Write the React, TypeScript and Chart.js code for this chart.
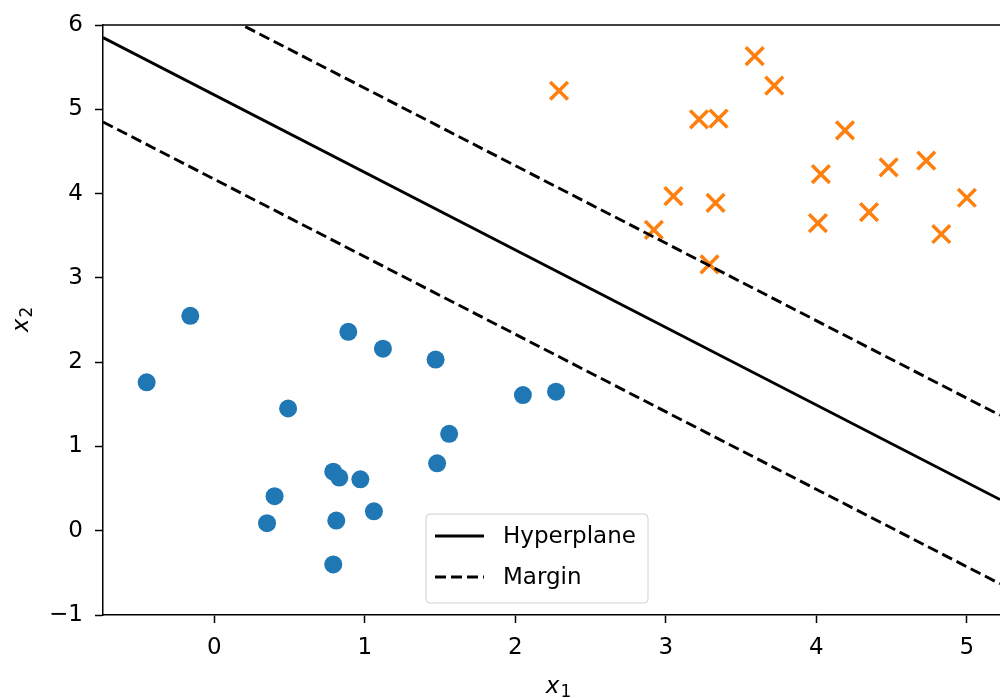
import React, { useEffect, useRef } from "react";
import { Chart, registerables } from "chart.js";

Chart.register(...registerables);

// Axis ranges and ticks
const xMin = -0.74;
const xMax = 5.22;
const yMin = -1;
const yMax = 6;
const xTicks = [0, 1, 2, 3, 4, 5];
const yTicks = [-1, 0, 1, 2, 3, 4, 5, 6];

// Axis titles (math-style: italic symbol + subscript)
const xTitle = ["x", "1"];
const yTitle = ["x", "2"];

// Separating hyperplane and margins (end points)
const lineX = [-0.74, 5.22];
const hyperplaneY = [5.85, 0.37];
const marginUpperY = [6.85, 1.37];
const marginLowerY = [4.85, -0.63];

// Class A (blue circles)
const classAX = [-0.45, -0.16, 0.89, 1.12, 1.47, 0.49, 2.05, 2.27, 1.56, 1.48, 0.79, 0.83, 0.97, 0.4, 0.35, 0.81, 1.06, 0.79];
const classAY = [1.76, 2.55, 2.36, 2.16, 2.03, 1.45, 1.61, 1.65, 1.15, 0.8, 0.7, 0.63, 0.61, 0.41, 0.09, 0.12, 0.23, -0.4];

// Class B (orange crosses)
const classBX = [3.59, 3.72, 3.22, 3.35, 4.19, 4.03, 4.48, 4.73, 3.05, 3.33, 5.0, 4.01, 4.35, 4.83, 2.92, 3.29, 2.29];
const classBY = [5.63, 5.28, 4.88, 4.89, 4.75, 4.23, 4.31, 4.39, 3.97, 3.89, 3.95, 3.65, 3.78, 3.52, 3.57, 3.16, 5.22];

const FONT = "'DejaVu Sans', sans-serif";
const FS = 23;

const fmt = (v: number) => (v < 0 ? "\u2212" + Math.abs(v) : String(v));

function drawMathLabel(ctx: CanvasRenderingContext2D, parts: string[], cx: number, baseline: number) {
  ctx.font = `italic ${FS}px ${FONT}`;
  const w0 = ctx.measureText(parts[0]).width;
  ctx.font = `17px ${FONT}`;
  const w1 = ctx.measureText(parts[1]).width;
  const start = cx - (w0 + w1) / 2;
  ctx.textAlign = "left";
  ctx.textBaseline = "alphabetic";
  ctx.fillStyle = "#000";
  ctx.font = `italic ${FS}px ${FONT}`;
  ctx.fillText(parts[0], start, baseline);
  ctx.font = `17px ${FONT}`;
  ctx.fillText(parts[1], start + w0 + 1, baseline + 4);
}

const boxLegend = {
  id: "boxLegend",
  afterDraw(chart: any) {
    const { ctx, chartArea } = chart;
    ctx.save();
    // top spine
    ctx.strokeStyle = "#000";
    ctx.lineWidth = 1.5;
    ctx.beginPath();
    ctx.moveTo(chartArea.left, chartArea.top);
    ctx.lineTo(chartArea.right, chartArea.top);
    ctx.stroke();

    // axis titles
    drawMathLabel(ctx, xTitle, chartArea.left + 455, chartArea.bottom + 78);
    ctx.save();
    ctx.translate(chartArea.left - 75, (chartArea.top + chartArea.bottom) / 2);
    ctx.rotate(-Math.PI / 2);
    drawMathLabel(ctx, yTitle, 0, 0);
    ctx.restore();

    // legend
    const bx = chartArea.left + 323;
    const by = chartArea.bottom - 101;
    const bw = 222;
    const bh = 89;
    const r = 4;
    ctx.beginPath();
    ctx.moveTo(bx + r, by);
    ctx.lineTo(bx + bw - r, by);
    ctx.quadraticCurveTo(bx + bw, by, bx + bw, by + r);
    ctx.lineTo(bx + bw, by + bh - r);
    ctx.quadraticCurveTo(bx + bw, by + bh, bx + bw - r, by + bh);
    ctx.lineTo(bx + r, by + bh);
    ctx.quadraticCurveTo(bx, by + bh, bx, by + bh - r);
    ctx.lineTo(bx, by + r);
    ctx.quadraticCurveTo(bx, by, bx + r, by);
    ctx.closePath();
    ctx.fillStyle = "rgba(255,255,255,0.8)";
    ctx.fill();
    ctx.strokeStyle = "#d0d0d0";
    ctx.lineWidth = 1;
    ctx.stroke();

    const entries = chart.data.datasets.filter((d: any) => d.showInLegend);
    entries.forEach((d: any, i: number) => {
      const y = by + 22 + i * 41;
      ctx.beginPath();
      ctx.setLineDash(d.borderDash || []);
      ctx.strokeStyle = d.borderColor;
      ctx.lineWidth = d.borderWidth;
      ctx.moveTo(bx + 9, y);
      ctx.lineTo(bx + 58, y);
      ctx.stroke();
      ctx.setLineDash([]);
      ctx.fillStyle = "#000";
      ctx.font = `${FS}px ${FONT}`;
      ctx.textBaseline = "middle";
      ctx.textAlign = "left";
      ctx.fillText(d.label, bx + 77, y + 1);
    });
    ctx.restore();
  },
};

export default function App() {
  const ref = useRef<HTMLCanvasElement | null>(null);

  useEffect(() => {
    document.body.style.margin = "0";
    document.body.style.overflow = "hidden";
    if (!ref.current) return;
    const pts = (xs: number[], ys: number[]) => xs.map((x, i) => ({ x, y: ys[i] }));
    const dash = [11, 5];
    const zeroPad = (s: any) => {
      s.paddingLeft = 0;
      s.paddingRight = 0;
      s.paddingTop = 0;
      s.paddingBottom = 0;
    };
    const chart = new Chart(ref.current, {
      type: "scatter",
      data: {
        datasets: [
          {
            type: "line",
            label: "Hyperplane",
            showInLegend: true,
            data: pts(lineX, hyperplaneY),
            borderColor: "#000",
            borderWidth: 2.9,
            pointRadius: 0,
            fill: false,
          } as any,
          {
            type: "line",
            label: "Margin",
            showInLegend: true,
            data: pts(lineX, marginUpperY),
            borderColor: "#000",
            borderWidth: 2.9,
            borderDash: dash,
            pointRadius: 0,
            fill: false,
          } as any,
          {
            type: "line",
            label: "Margin lower",
            data: pts(lineX, marginLowerY),
            borderColor: "#000",
            borderWidth: 2.9,
            borderDash: dash,
            pointRadius: 0,
            fill: false,
          } as any,
          {
            label: "Class -1",
            data: pts(classAX, classAY),
            backgroundColor: "#1f77b4",
            borderColor: "#1f77b4",
            borderWidth: 0,
            pointRadius: 9,
            pointStyle: "circle",
          },
          {
            label: "Class +1",
            data: pts(classBX, classBY),
            backgroundColor: "#ff7f0e",
            borderColor: "#ff7f0e",
            borderWidth: 3.5,
            pointRadius: 12.5,
            pointStyle: "crossRot",
          },
        ],
      },
      options: {
        animation: false,
        responsive: false,
        devicePixelRatio: 1,
        layout: { autoPadding: false, padding: { top: 25, left: 0, right: 0, bottom: 0 } },
        plugins: { legend: { display: false }, tooltip: { enabled: false } },
        scales: {
          x: {
            type: "linear",
            min: xMin,
            max: xMax,
            afterBuildTicks: (s: any) => {
              s.ticks = xTicks.map((v) => ({ value: v }));
            },
            afterFit: (s: any) => {
              s.height = 83;
              zeroPad(s);
            },
            grid: {
              display: true,
              drawOnChartArea: false,
              drawTicks: true,
              tickLength: 8,
              tickColor: "#000",
              tickWidth: 1.5,
            },
            border: { display: true, color: "#000", width: 1.5 },
            ticks: {
              color: "#000",
              font: { family: FONT, size: FS },
              padding: 11,
              maxRotation: 0,
              callback: (v: any) => fmt(Number(v)),
            },
            title: { display: false },
          },
          y: {
            type: "linear",
            min: yMin,
            max: yMax,
            afterBuildTicks: (s: any) => {
              s.ticks = yTicks.map((v) => ({ value: v }));
            },
            afterFit: (s: any) => {
              s.width = 103;
              zeroPad(s);
            },
            grid: {
              display: true,
              drawOnChartArea: false,
              drawTicks: true,
              tickLength: 8,
              tickColor: "#000",
              tickWidth: 1.5,
            },
            border: { display: true, color: "#000", width: 1.5 },
            ticks: {
              color: "#000",
              font: { family: FONT, size: FS },
              padding: 12,
              callback: (v: any) => fmt(Number(v)),
            },
            title: { display: false },
          },
        },
      },
      plugins: [boxLegend],
    });
    return () => chart.destroy();
  }, []);

  return (
    <div style={{ position: "absolute", left: 0, top: 0, width: "1000px", height: "698px", background: "#fff" }}>
      <canvas ref={ref} width={1000} height={698} style={{ display: "block", width: "1000px", height: "698px" }} />
    </div>
  );
}
